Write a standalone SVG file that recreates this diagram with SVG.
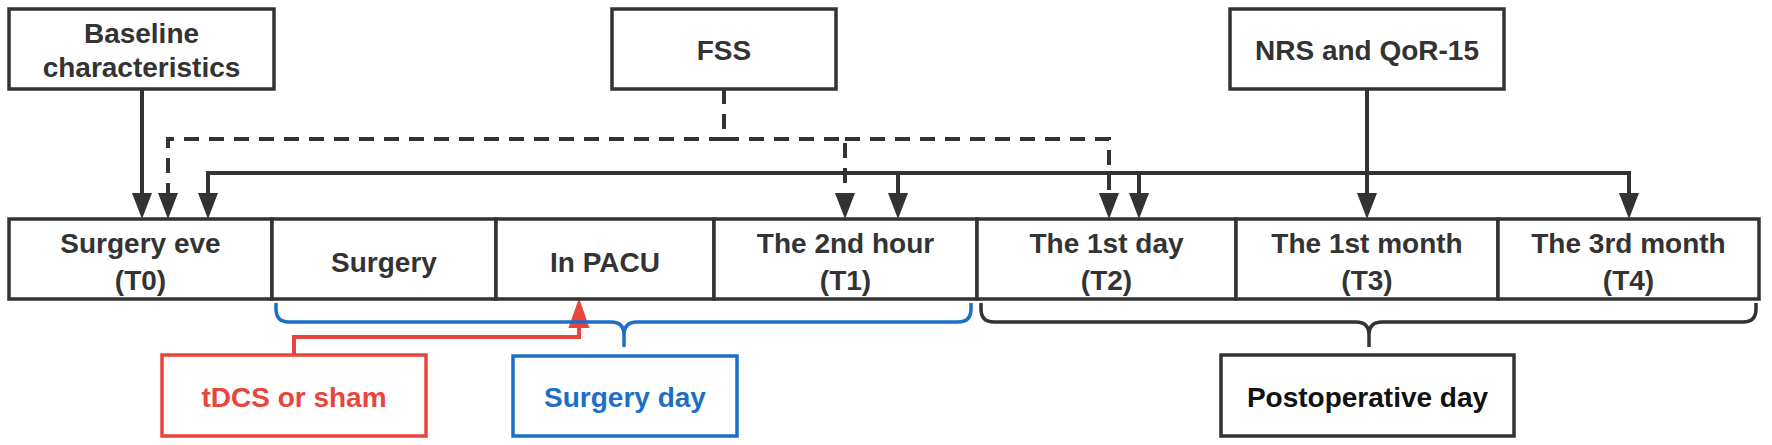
<svg xmlns="http://www.w3.org/2000/svg" width="1772" height="445" viewBox="0 0 1772 445">
<defs>
<style>
.box{fill:#fff;stroke:#333;stroke-width:3.5}
.cell{fill:#fff;stroke:#333;stroke-width:3.5}
.t{font-family:"Liberation Sans",Arial,sans-serif;font-weight:bold;font-size:28px;fill:#333;text-anchor:middle}
.ln{fill:none;stroke:#333;stroke-width:4}
.dash{fill:none;stroke:#333;stroke-width:4;stroke-dasharray:15 10}
</style>
<marker id="ah" markerUnits="userSpaceOnUse" markerWidth="28" markerHeight="22" viewBox="0 -11 28 22" refX="0" refY="0" orient="auto">
<path d="M0,-10 L26,0 L0,10 z" fill="#333"/>
</marker>
<marker id="ahr" markerUnits="userSpaceOnUse" markerWidth="32" markerHeight="24" viewBox="0 -12 32 24" refX="0" refY="0" orient="auto">
<path d="M0,-10.5 L30,0 L0,10.5 z" fill="#e8453c"/>
</marker>
</defs>
<rect width="1772" height="445" fill="#fff"/>

<g id="connectors">
<path class="ln" d="M142,89 V193" marker-end="url(#ah)"/>
<path class="dash" d="M724,89 V139 H168 V193" marker-end="url(#ah)"/>
<path class="dash" d="M724,139 H845 V193" marker-end="url(#ah)"/>
<path class="dash" d="M845,139 H1109 V193" marker-end="url(#ah)"/>
<path class="ln" d="M208,193 V173 H1629 V193" marker-end="url(#ah)"/>
<path class="ln" d="M208,175 V193" marker-end="url(#ah)"/>
<path class="ln" d="M898,173 V193" marker-end="url(#ah)"/>
<path class="ln" d="M1139,173 V193" marker-end="url(#ah)"/>
<path class="ln" d="M1367,89 V193" marker-end="url(#ah)"/>
<path fill="none" stroke="#e8453c" stroke-width="4" d="M294,355 V337 H579 V328" marker-end="url(#ahr)"/>
<path fill="none" stroke="#1c6fc8" stroke-width="3.5" d="M276,303 V309 Q276,322 289,322 H611 Q624,322 624,335 V347 M624,335 Q624,322 637,322 H958 Q971,322 971,309 V303"/>
<path fill="none" stroke="#333" stroke-width="3.5" d="M981,303 V309 Q981,322 994,322 H1356 Q1369,322 1369,335 V347 M1369,335 Q1369,322 1382,322 H1743 Q1756,322 1756,309 V303"/>
</g>

<g id="baseline">
<rect class="box" x="9" y="9" width="265" height="80"/>
<text class="t" x="141.5" y="43">Baseline</text>
<text class="t" x="141.5" y="77">characteristics</text>
</g>
<g id="fss">
<rect class="box" x="612" y="9" width="224" height="80"/>
<text class="t" x="724" y="60">FSS</text>
</g>
<g id="nrs">
<rect class="box" x="1230" y="9" width="274" height="80"/>
<text class="t" x="1367" y="60">NRS and QoR-15</text>
</g>

<g id="t0">
<rect class="cell" x="9" y="219" width="263" height="80"/>
<text class="t" x="140.5" y="253">Surgery eve</text>
<text class="t" x="140.5" y="290">(T0)</text>
</g>
<g id="surgery">
<rect class="cell" x="272" y="219" width="224" height="80"/>
<text class="t" x="384" y="272">Surgery</text>
</g>
<g id="pacu">
<rect class="cell" x="496" y="219" width="218" height="80"/>
<text class="t" x="605" y="272">In PACU</text>
</g>
<g id="t1">
<rect class="cell" x="714" y="219" width="263" height="80"/>
<text class="t" x="845.5" y="253">The 2nd hour</text>
<text class="t" x="845.5" y="290">(T1)</text>
</g>
<g id="t2">
<rect class="cell" x="977" y="219" width="259" height="80"/>
<text class="t" x="1106.5" y="253">The 1st day</text>
<text class="t" x="1106.5" y="290">(T2)</text>
</g>
<g id="t3">
<rect class="cell" x="1236" y="219" width="262" height="80"/>
<text class="t" x="1367" y="253">The 1st month</text>
<text class="t" x="1367" y="290">(T3)</text>
</g>
<g id="t4">
<rect class="cell" x="1498" y="219" width="261" height="80"/>
<text class="t" x="1628.5" y="253">The 3rd month</text>
<text class="t" x="1628.5" y="290">(T4)</text>
</g>

<g id="tdcs">
<rect x="162" y="355" width="264" height="81" fill="#fff" stroke="#e8453c" stroke-width="3.5"/>
<text class="t" x="294" y="407" style="fill:#e8453c">tDCS or sham</text>
</g>
<g id="surgeryday">
<rect x="513" y="356" width="224" height="80" fill="#fff" stroke="#1c6fc8" stroke-width="3.5"/>
<text class="t" x="625" y="407" style="fill:#1c6fc8">Surgery day</text>
</g>
<g id="postop">
<rect x="1221" y="355" width="293" height="81" fill="#fff" stroke="#333" stroke-width="3.5"/>
<text class="t" x="1367.5" y="407" style="fill:#111">Postoperative day</text>
</g>
</svg>
